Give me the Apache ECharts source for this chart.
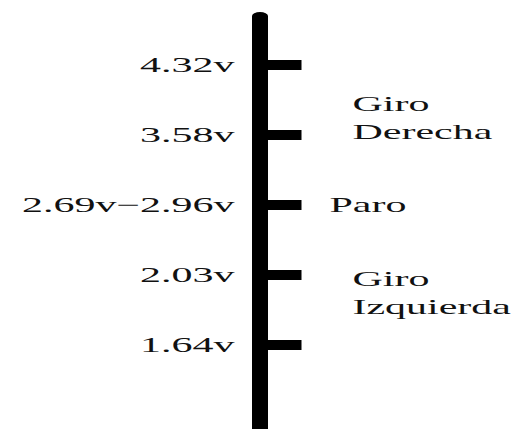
<!DOCTYPE html>
<html>
<head>
<meta charset="utf-8">
<script src="https://cdn.jsdelivr.net/npm/echarts@6/dist/echarts.min.js"></script>
<style>
  html, body { margin: 0; padding: 0; background: #fff; overflow: hidden; }
  /* the picture is stretched sideways, so draw at half width and widen it */
  #chart { width: 262px; height: 429px; transform: scaleX(2); transform-origin: 0 0; }
</style>
</head>
<body>
<div id="chart"></div>
<script>
// tick levels on the scale (top to bottom) and their voltage labels
const tickLevels = [1, 2, 3, 4, 5]
const tickLabels = ['4.32v', '3.58v', '2.69v−2.96v', '2.03v', '1.64v']
// zone names on the right and where they sit on the same scale
const zoneLevels = [1.75, 3, 4.25]
const zoneNames = ['Giro\nDerecha', 'Paro', 'Giro\nIzquierda']

const font = {
  fontFamily: '"Liberation Serif", "Times New Roman", serif',
  fontSize: 21,
  color: '#111'
}

function pick(levels, names, v){
  for (let i = 0; i < levels.length; i++) {
    if (Math.abs(levels[i] - v) < 1e-6) return names[i]
  }
  return ''
}

let chart = echarts.init(document.getElementById('chart'), null, {renderer: 'svg'})
chart.setOption({
  animation: false,
  grid: {
    left: 129.25,
    width: 1,
    top: 16,
    height: 434,
    outerBoundsMode: 'none'
  },
  xAxis: {
    type: 'value',
    min: 0,
    max: 1,
    show: false
  },
  yAxis: [
    {
      type: 'value',
      position: 'left',
      inverse: true,
      min: 0.3,
      max: 6.5,
      splitLine: {show: false},
      axisLine: {
        show: true,
        onZero: false,
        lineStyle: {color: '#000', width: 8, cap: 'round'}
      },
      axisTick: {
        show: true,
        inside: true,
        length: 21.5,
        customValues: tickLevels,
        lineStyle: {color: '#000', width: 10, cap: 'butt'}
      },
      axisLabel: {
        ...font,
        margin: 12,
        customValues: tickLevels,
        formatter: v => pick(tickLevels, tickLabels, v)
      }
    },
    {
      type: 'value',
      position: 'right',
      inverse: true,
      min: 0.3,
      max: 6.5,
      splitLine: {show: false},
      axisLine: {show: false},
      axisTick: {show: false},
      axisLabel: {
        ...font,
        margin: 34.5,
        lineHeight: 28,
        customValues: zoneLevels,
        formatter: v => {
          const name = pick(zoneLevels, zoneNames, v)
          if (name === 'Paro') return '{p|' + name + '}'
          return name.split('\n').map(s => '{g|' + s + '}').join('\n')
        },
        rich: {
          p: {...font, lineHeight: 28},
          g: {...font, lineHeight: 28, padding: [0, 0, 0, 11.5]}
        }
      }
    }
  ],
  series: []
})
</script>
</body>
</html>
